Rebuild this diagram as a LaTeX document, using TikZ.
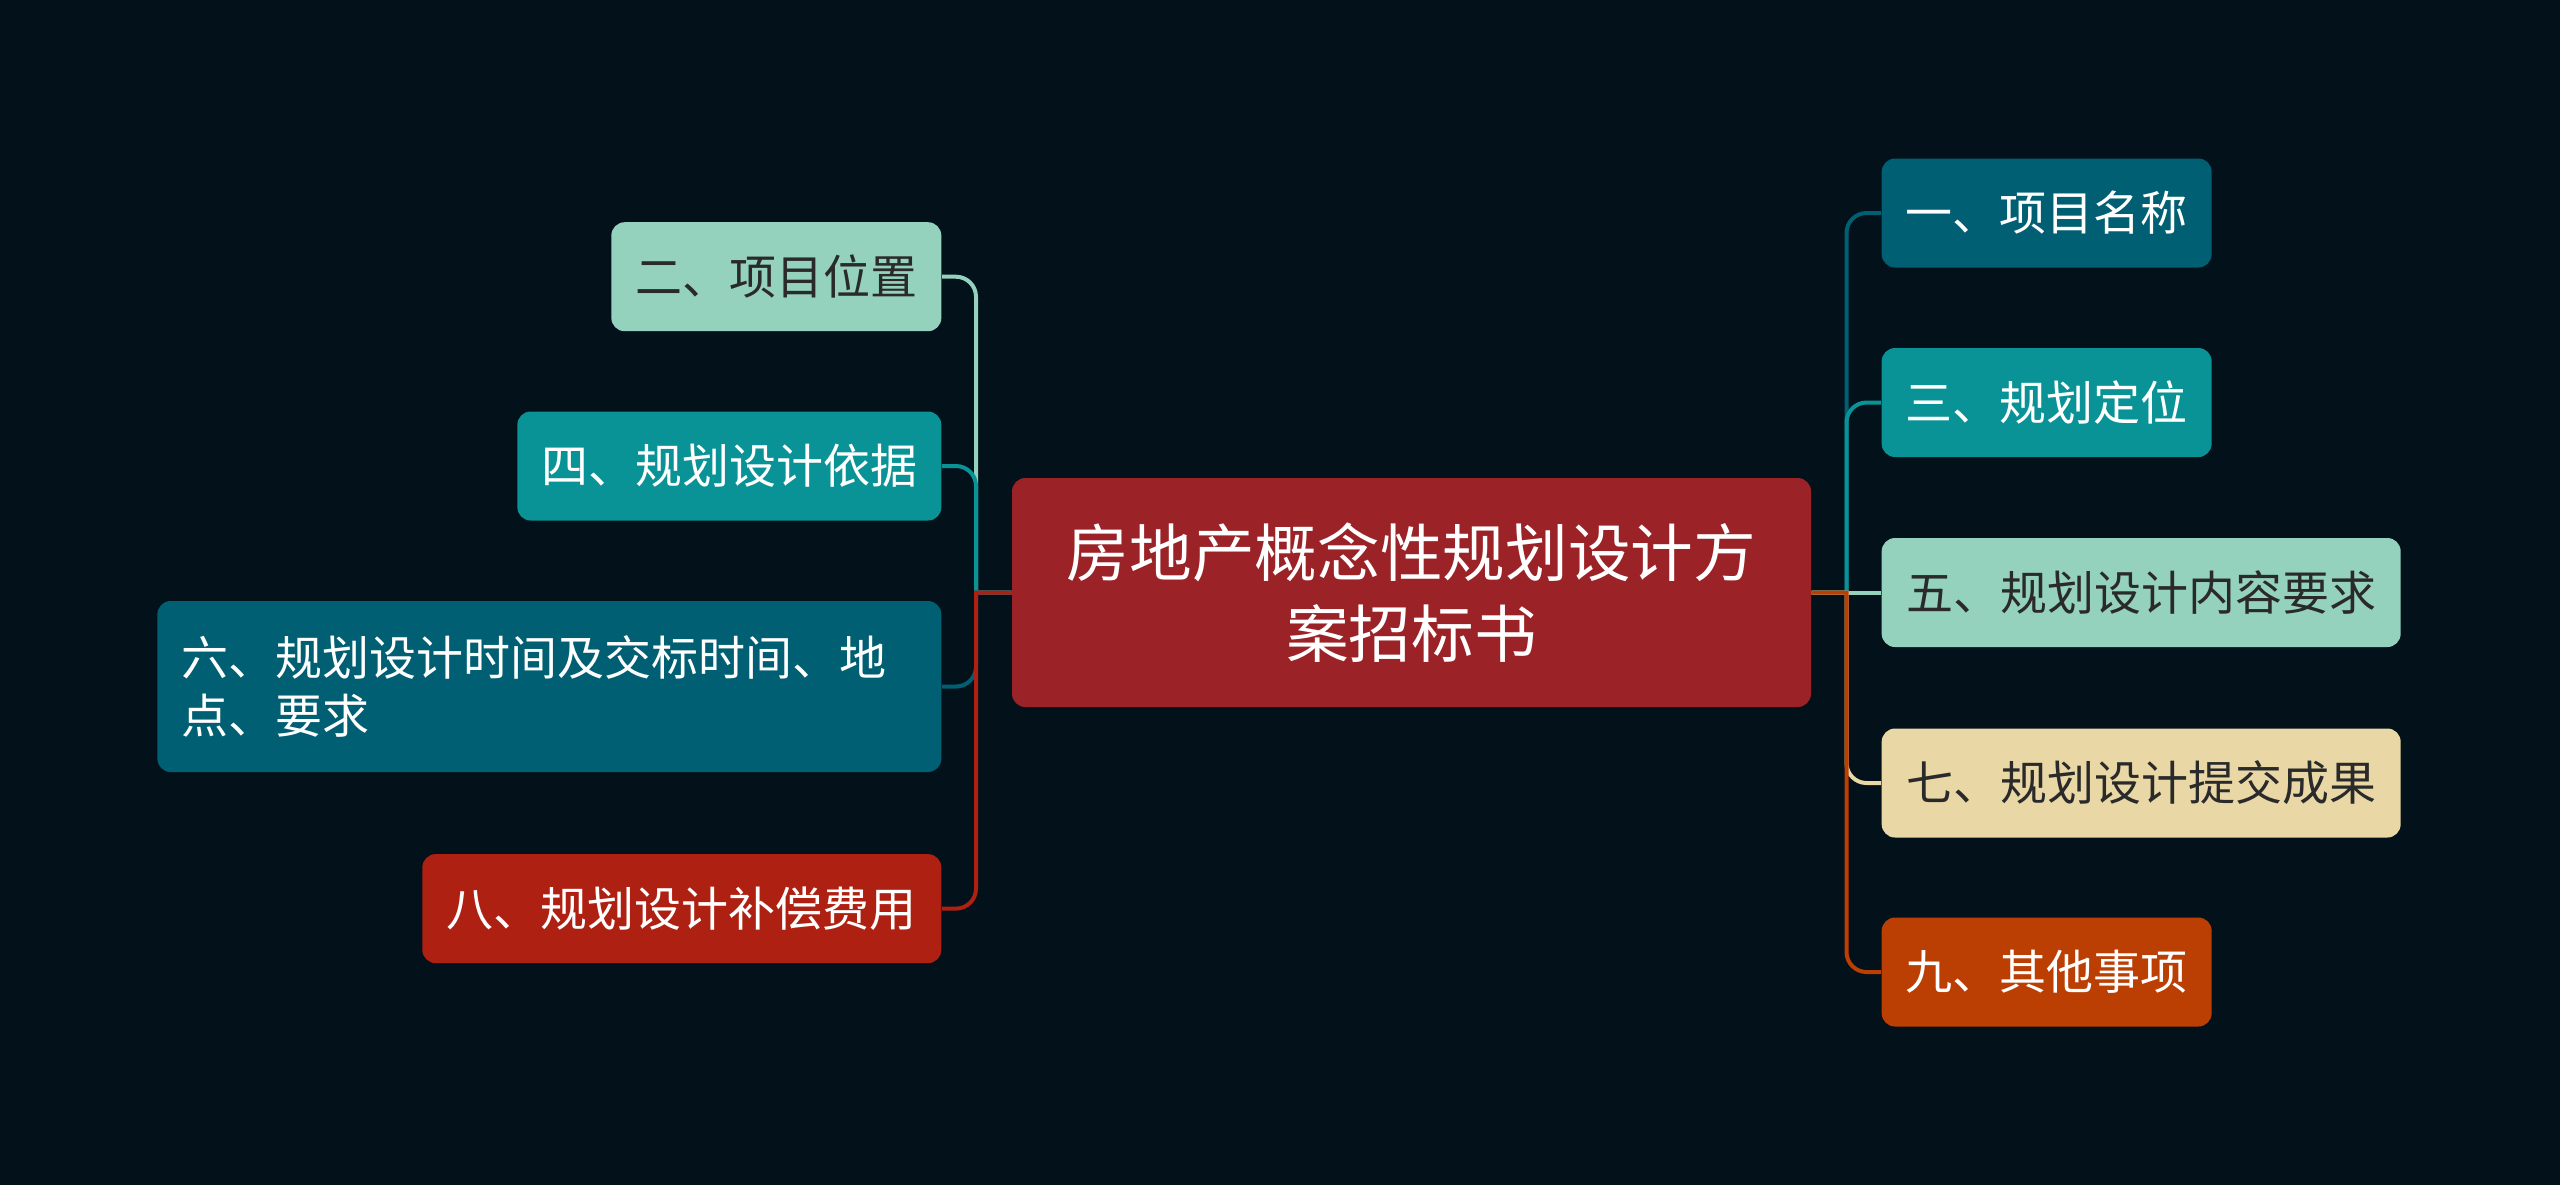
\documentclass[tikz,border=0pt]{standalone}
\usepackage{fontspec}
\setmainfont{Noto Sans CJK SC}
\definecolor{bg}{HTML}{03111A}
\definecolor{cred}{HTML}{9B2226}
\definecolor{cdark}{HTML}{005F73}
\definecolor{cteal}{HTML}{0A9396}
\definecolor{cmint}{HTML}{94D2BD}
\definecolor{ccream}{HTML}{E9D8A6}
\definecolor{corange}{HTML}{BB3E03}
\definecolor{crust}{HTML}{AE2012}
\definecolor{dtext}{HTML}{2A2A2A}
\tikzset{
  box/.style={rounded corners=4pt, inner sep=0pt, minimum height=32.7pt, align=center,
    font=\fontsize{14.1}{17.6}\selectfont},
  light/.style={text=dtext},
  darkt/.style={text=white},
  conn/.style={line width=1.2pt},
}
\begin{document}
\begin{tikzpicture}[x=0.3pt,y=-0.3pt]
\fill[bg] (0,0) rectangle (2560,1185);
\useasboundingbox (0,0) rectangle (2560,1185);
% center
\node[box, fill=cred, text=white, minimum width=239.7pt, minimum height=68.7pt,
  font=\fontsize{18.8}{24.5}\selectfont] (c) at (1411.5,592.5) {房地产概念性规划设计方\\案招标书};
% right
\node[box, darkt, fill=cdark, minimum width=99pt, anchor=west] (n1) at (1881,213) {一、项目名称};
\node[box, darkt, fill=cteal, minimum width=99pt, anchor=west] (n3) at (1881,402.5) {三、规划定位};
\node[box, light, fill=cmint, minimum width=155.7pt, anchor=west] (n5) at (1881,592.5) {五、规划设计内容要求};
\node[box, light, fill=ccream, minimum width=155.7pt, anchor=west] (n7) at (1881,783) {七、规划设计提交成果};
\node[box, darkt, fill=corange, minimum width=99pt, anchor=west] (n9) at (1881,972) {九、其他事项};
% left
\node[box, light, fill=cmint, minimum width=99pt, anchor=east] (n2) at (942,276.7) {二、项目位置};
\node[box, darkt, fill=cteal, minimum width=127.2pt, anchor=east] (n4) at (942,466) {四、规划设计依据};
\node[box, darkt, fill=cdark, minimum width=235.2pt, minimum height=51.3pt, anchor=east,
  text width=220.6pt, align=left, font=\fontsize{14.1}{17.6}\selectfont] (n6) at (942,686.5)
  {六、规划设计时间及交标时间、地\\点、要求};
\node[box, darkt, fill=crust, minimum width=155.7pt, anchor=east] (n8) at (942,908.6) {八、规划设计补偿费用};
% trunk coordinates
\coordinate (tr) at (1846.5,592.5);
\coordinate (tl) at (976,592.5);
% right connectors
\foreach \n/\col in {n1/cdark, n3/cteal}{
  \draw[conn, \col] (c.east) -- (tr) {[rounded corners=6pt] -- (tr |- \n.west) -- (\n.west)};
}
\draw[conn, cmint] (tr) -- (n5.west);
\foreach \n/\col in {n7/ccream, n9/corange}{
  \draw[conn, \col] (c.east) -- (tr) {[rounded corners=6pt] -- (tr |- \n.west) -- (\n.west)};
}
% left connectors
\foreach \n/\col in {n2/cmint, n4/cteal, n6/cdark, n8/crust}{
  \draw[conn, \col] (c.west) -- (tl) {[rounded corners=6pt] -- (tl |- \n.east) -- (\n.east)};
}
\end{tikzpicture}
\end{document}
